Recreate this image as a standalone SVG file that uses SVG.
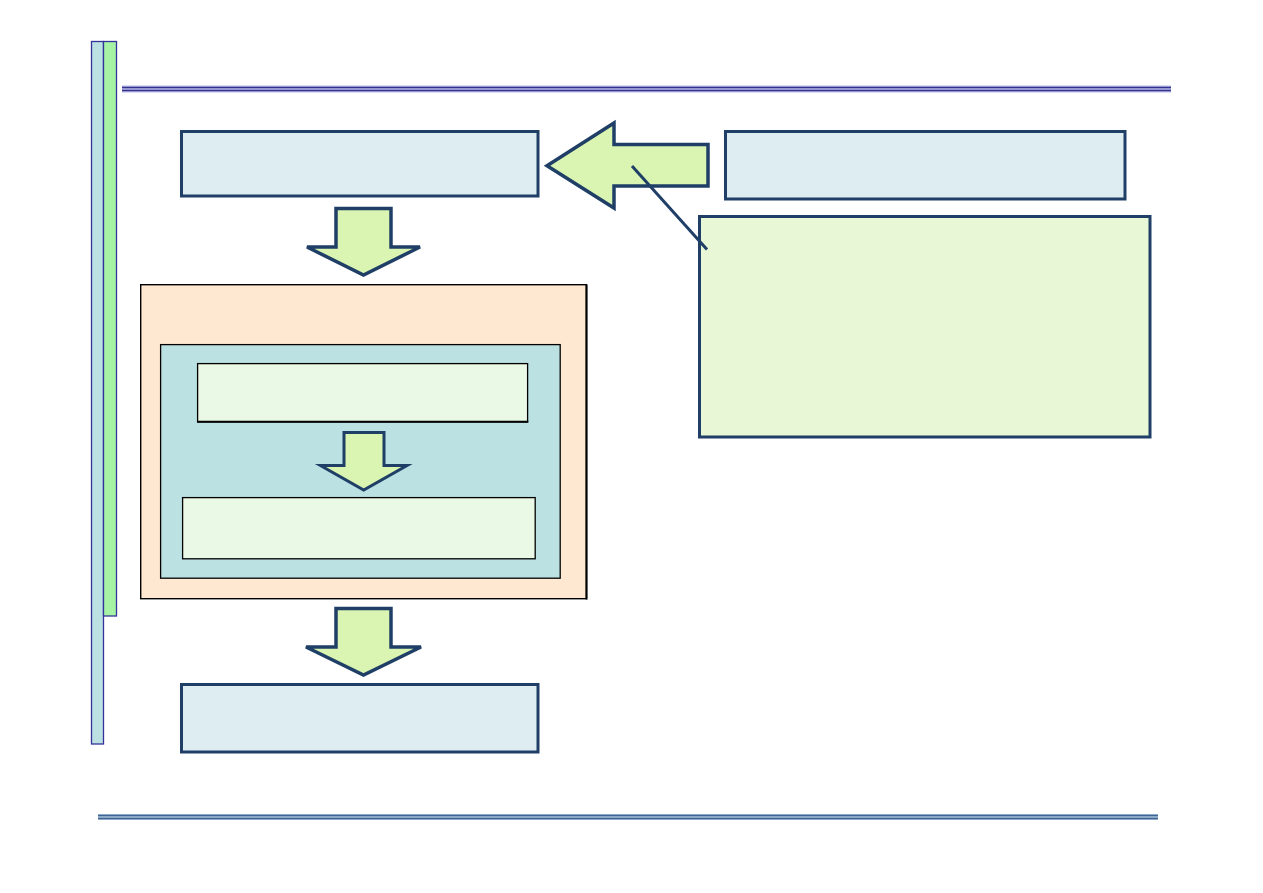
<svg xmlns="http://www.w3.org/2000/svg" width="1263" height="893" viewBox="0 0 1263 893">
<style>
.box{fill:#deedf1;stroke:#203f67;stroke-width:3}
.arrow{fill:#d9f5b1;stroke:#203f67;stroke-width:3.5;stroke-linejoin:miter}
.inner{fill:#eaf8e6;stroke:#000;stroke-width:1.3}
</style>
<rect width="1263" height="893" fill="#fff"/>
<g id="sidebar">
<rect x="91.5" y="41.5" width="12" height="702.5" fill="#bbe1e2" stroke="#333399" stroke-width="1.3"/>
<rect x="103.5" y="41.5" width="13" height="574.5" fill="#a6f3a6" stroke="#333399" stroke-width="1.3"/>
</g>
<g id="topline">
<rect x="122" y="85.5" width="1049" height="7" fill="#b8b8e6"/>
<line x1="122" y1="87.5" x2="1171" y2="87.5" stroke="#33338f" stroke-width="1.5"/>
<line x1="122" y1="90.6" x2="1171" y2="90.6" stroke="#33338f" stroke-width="1.5"/>
</g>
<g id="bottomline">
<rect x="98" y="814" width="1060" height="6" fill="#a9c0d9"/>
<line x1="98" y1="815.6" x2="1158" y2="815.6" stroke="#3d6695" stroke-width="1.5"/>
<line x1="98" y1="818.6" x2="1158" y2="818.6" stroke="#3d6695" stroke-width="1.5"/>
</g>
<g id="node-top"><rect class="box" x="181.5" y="131.5" width="356.5" height="64.5"/></g>
<g id="node-right"><rect class="box" x="725.5" y="131.5" width="399.5" height="67.5"/></g>
<g id="node-note"><rect x="699.5" y="216.5" width="450.5" height="220.5" fill="#e8f7d6" stroke="#203f67" stroke-width="3"/></g>
<g id="node-bottom"><rect class="box" x="181.5" y="684.5" width="356.5" height="67.5"/></g>
<g id="node-outer"><rect x="140.7" y="284.7" width="445.6" height="314" fill="#fee8d1" stroke="#000" stroke-width="1.4"/><line x1="586.6" y1="284.5" x2="586.6" y2="599.5" stroke="#000" stroke-width="2"/></g>
<g id="node-middle"><rect x="160.6" y="344.6" width="399.6" height="233.6" fill="#bbe1e2" stroke="#000" stroke-width="1.3"/></g>
<g id="node-inner1"><rect class="inner" x="197.6" y="363.6" width="330" height="58.2"/><line x1="197" y1="421.8" x2="528.3" y2="421.8" stroke="#000" stroke-width="2"/></g>
<g id="node-inner2"><rect class="inner" x="182.6" y="497.6" width="352.6" height="61.2"/></g>
<g id="connectors">
<polygon class="arrow" points="708,144.5 708,186 614,186 614,208 547,165.7 614,123 614,144.5"/>
<line x1="632" y1="166" x2="707" y2="249.5" stroke="#203f67" stroke-width="3"/>
<polygon class="arrow" points="336,208.5 391,208.5 391,247 420,247 363.5,275 307,247 336,247"/>
<polygon class="arrow" points="344,432.5 384,432.5 384,465.5 407,465.5 363.7,490 320.5,465.5 344,465.5" style="stroke-width:3"/>
<polygon class="arrow" points="336,608.5 391,608.5 391,647 421,647 363.5,675 306,647 336,647"/>
</g>
</svg>
